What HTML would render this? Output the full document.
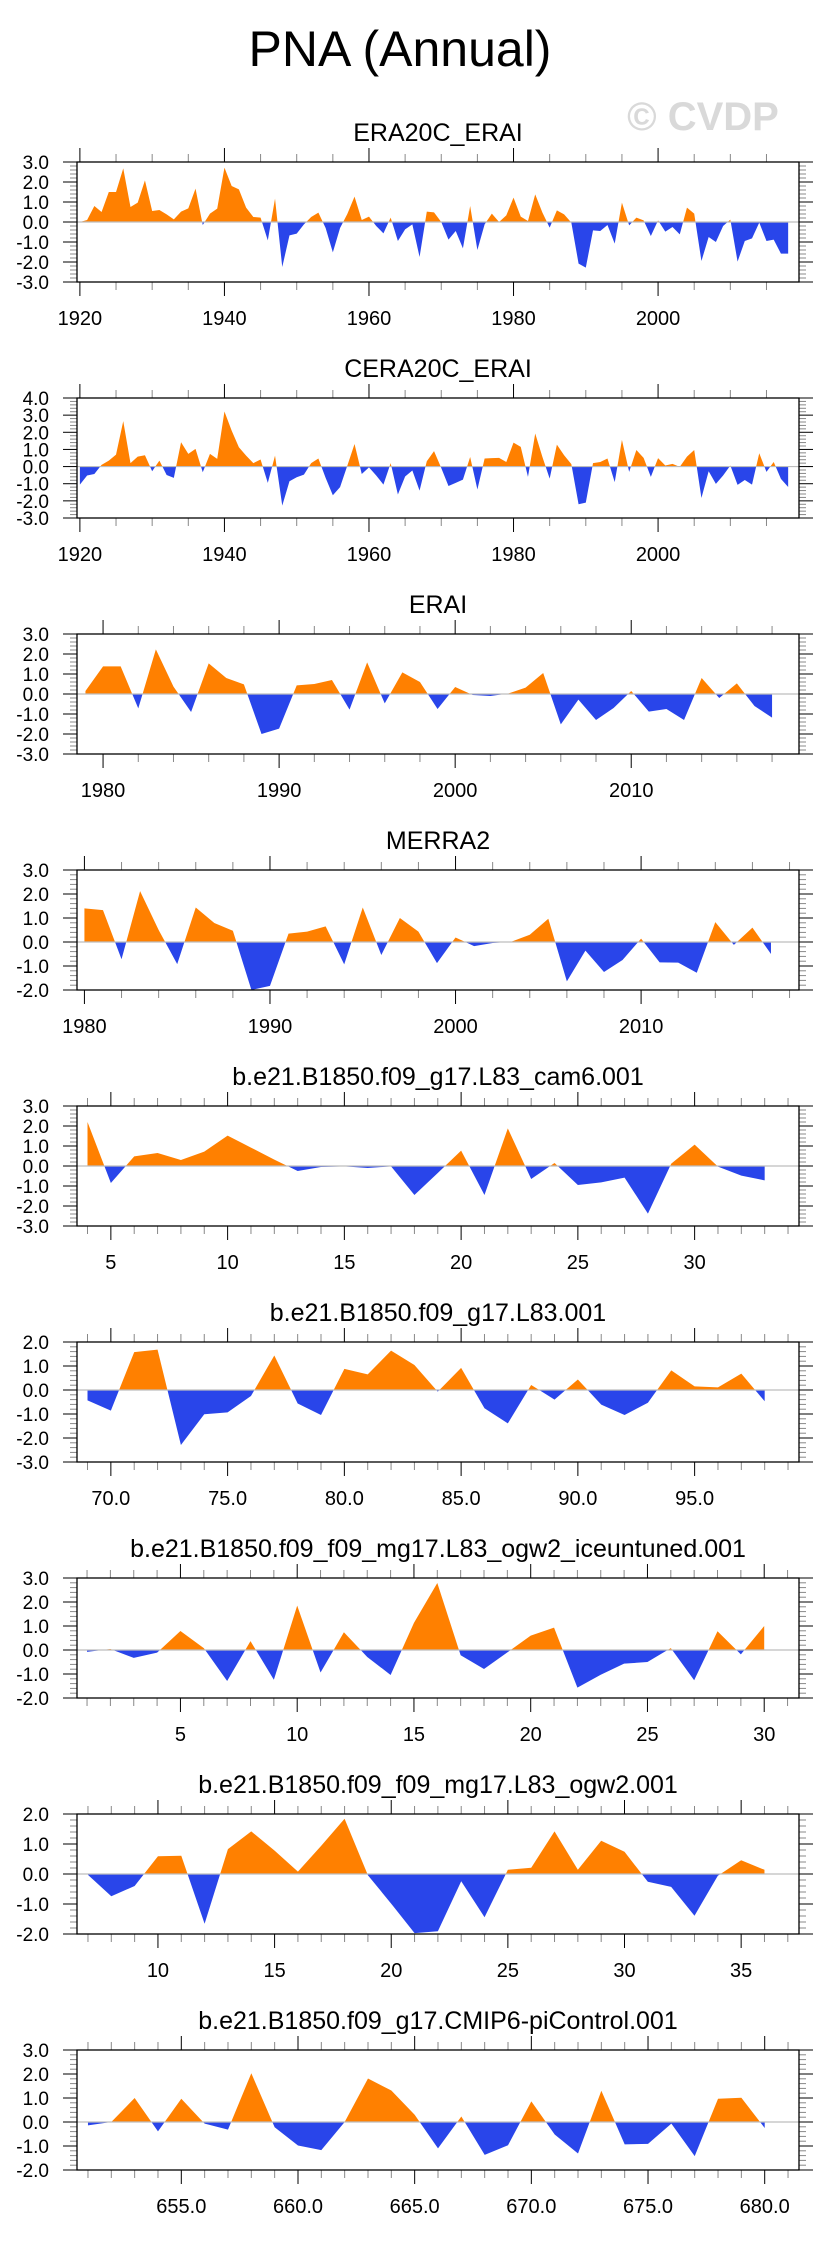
<!DOCTYPE html>
<html><head><meta charset="utf-8"><style>
html,body{margin:0;padding:0;background:#fff}
svg{display:block}
text{font-family:"Liberation Sans",Arial,sans-serif}
</style></head><body>
<svg id="chart" width="829" height="2245" viewBox="0 0 829 2245" xmlns="http://www.w3.org/2000/svg">
<rect width="829" height="2245" fill="#fff"/>
<text x="400" y="66" font-size="50" text-anchor="middle" fill="#000">PNA (Annual)</text>
<text x="703" y="130" font-size="40" font-weight="bold" text-anchor="middle" fill="#d9d9d9">© CVDP</text>
</svg>
<script>
const titles = ["ERA20C_ERAI","CERA20C_ERAI","ERAI","MERRA2","b.e21.B1850.f09_g17.L83_cam6.001","b.e21.B1850.f09_g17.L83.001","b.e21.B1850.f09_f09_mg17.L83_ogw2_iceuntuned.001","b.e21.B1850.f09_f09_mg17.L83_ogw2.001","b.e21.B1850.f09_g17.CMIP6-piControl.001"];
const startYears = [1920,1920,1979,1980,4,69,1,7,651];
const xMins = [1919.6,1919.6,1978.52,1979.6,3.55,68.55,0.57,6.53,650.53];
const xMaxs = [2019.5,2019.5,2019.53,2018.51,34.47,99.47,31.49,37.48,681.47];
const yMins = [-3,-3,-3,-2,-3,-3,-2,-2,-2];
const yMaxs = [3,4,3,3,3,2,3,2,3];
const majorSteps = [20,20,10,10,5,5,5,5,5];
const minorSteps = [5,5,2,2,1,1,1,1,1];
const majorStarts = [1920,1920,1980,1980,5,70,5,10,655];
const labelDecimals = [0,0,0,0,0,1,0,0,1];
const s1 = [0.0,0.1,0.8,0.5,1.5,1.5,2.68,0.75,0.97,2.08,0.55,0.6,0.38,0.13,0.52,0.68,1.67,-0.15,0.42,0.67,2.72,1.8,1.63,0.72,0.25,0.22,-0.92,1.17,-2.25,-0.67,-0.58,-0.12,0.25,0.47,-0.3,-1.52,-0.3,0.4,1.27,0.1,0.27,-0.2,-0.57,0.22,-0.95,-0.37,-0.12,-1.75,0.52,0.48,0.0,-0.88,-0.45,-1.32,0.8,-1.4,-0.12,0.42,0.0,0.33,1.22,0.27,0.05,1.38,0.47,-0.28,0.58,0.38,-0.03,-2.08,-2.28,-0.42,-0.45,-0.15,-1.08,0.97,-0.17,0.22,0.08,-0.7,0.08,-0.48,-0.25,-0.62,0.72,0.42,-1.95,-0.75,-1.0,-0.2,0.12,-1.98,-0.95,-0.82,-0.03,-0.95,-0.88,-1.58,-1.58];
const s2 = [-1.05,-0.52,-0.43,0.1,0.35,0.7,2.65,0.2,0.58,0.66,-0.27,0.35,-0.49,-0.66,1.42,0.74,1.03,-0.33,0.74,0.45,3.21,2.1,1.13,0.64,0.2,0.41,-0.95,0.64,-2.28,-0.86,-0.62,-0.47,0.2,0.47,-0.66,-1.67,-1.2,0.05,1.32,-0.43,-0.05,-0.52,-1.05,0.2,-1.63,-0.58,-0.23,-1.4,0.31,0.9,-0.08,-1.13,-0.95,-0.76,0.56,-1.34,0.47,0.49,0.51,0.27,1.4,1.15,-0.6,1.93,0.56,-0.7,1.28,0.66,0.14,-2.2,-2.1,0.2,0.27,0.47,-0.91,1.56,-0.31,0.97,0.51,-0.6,0.49,0.06,0.16,-0.02,0.58,0.97,-1.83,-0.27,-1.01,-0.52,0.06,-1.07,-0.78,-1.05,0.78,-0.31,0.27,-0.72,-1.19];
const s3 = [0.15,1.38,1.38,-0.72,2.23,0.37,-0.9,1.53,0.8,0.48,-2.0,-1.73,0.43,0.5,0.7,-0.78,1.58,-0.47,1.08,0.6,-0.75,0.35,-0.05,-0.1,0.02,0.32,1.05,-1.52,-0.28,-1.3,-0.7,0.15,-0.88,-0.75,-1.3,0.8,-0.2,0.53,-0.6,-1.18];
const s4 = [1.4,1.33,-0.72,2.12,0.5,-0.92,1.44,0.79,0.47,-2.0,-1.83,0.35,0.43,0.65,-0.93,1.44,-0.54,1.0,0.43,-0.88,0.19,-0.17,-0.04,0.01,0.3,0.97,-1.64,-0.36,-1.25,-0.75,0.14,-0.85,-0.86,-1.28,0.83,-0.12,0.6,-0.5];
const s5 = [2.2,-0.85,0.48,0.65,0.3,0.72,1.52,0.92,0.32,-0.25,-0.05,-0.02,-0.1,-0.02,-1.45,-0.35,0.77,-1.45,1.88,-0.65,0.15,-0.95,-0.82,-0.58,-2.38,0.12,1.07,-0.03,-0.48,-0.72];
const s6 = [-0.43,-0.86,1.58,1.68,-2.29,-1.01,-0.93,-0.25,1.44,-0.56,-1.04,0.88,0.65,1.64,1.04,-0.07,0.92,-0.76,-1.39,0.21,-0.4,0.44,-0.61,-1.04,-0.53,0.82,0.15,0.11,0.68,-0.47];
const s7 = [-0.08,0.04,-0.33,-0.11,0.79,0.08,-1.29,0.37,-1.24,1.85,-0.94,0.74,-0.29,-1.04,1.13,2.79,-0.22,-0.79,-0.1,0.6,0.93,-1.57,-1.03,-0.57,-0.5,0.08,-1.26,0.78,-0.18,1.0];
const s8 = [-0.03,-0.74,-0.4,0.59,0.61,-1.66,0.83,1.42,0.78,0.08,0.94,1.84,-0.04,-0.99,-1.97,-1.91,-0.24,-1.44,0.14,0.21,1.42,0.14,1.11,0.74,-0.26,-0.43,-1.39,-0.06,0.46,0.14];
const s9 = [-0.14,0.0,1.0,-0.39,0.97,-0.07,-0.32,2.03,-0.22,-0.98,-1.17,0.0,1.81,1.31,0.3,-1.1,0.23,-1.37,-0.97,0.86,-0.52,-1.31,1.3,-0.93,-0.91,-0.07,-1.42,0.97,1.01,-0.25];
const seriesList = [s1,s2,s3,s4,s5,s6,s7,s8,s9];

const NS = "http://www.w3.org/2000/svg";
const svg = document.getElementById("chart");
const L = 77, R = 799, H = 120, TOP0 = 162, PITCH = 236;
function mk(tag, attrs, parent) {
  const e = document.createElementNS(NS, tag);
  for (const k in attrs) e.setAttribute(k, attrs[k]);
  (parent || svg).appendChild(e);
  return e;
}
const defs = mk("defs", {});
for (let p = 0; p < 9; p++) {
  const top = TOP0 + p * PITCH, bot = top + H;
  const x0 = xMins[p], x1 = xMaxs[p], y0 = yMins[p], y1 = yMaxs[p];
  const xs = v => L + (v - x0) / (x1 - x0) * (R - L);
  const ys = v => bot - (v - y0) / (y1 - y0) * H;
  const g = mk("g", {});
  
  
  const t = mk("text", {x: (L + R) / 2, y: top - 21, "font-size": 25, "text-anchor": "middle", fill: "#000"}, g);
  t.textContent = titles[p];
  
  
  const zy = ys(0);
  const cpA = mk("clipPath", {id: "ca" + p}, defs);
  mk("rect", {x: L, y: top, width: R - L, height: zy - top}, cpA);
  const cpB = mk("clipPath", {id: "cb" + p}, defs);
  mk("rect", {x: L, y: zy, width: R - L, height: bot - zy}, cpB);
  const data = seriesList[p];
  let pts = xs(startYears[p]).toFixed(2) + "," + zy.toFixed(2) + " ";
  for (let i = 0; i < data.length; i++) pts += xs(startYears[p] + i).toFixed(2) + "," + ys(data[i]).toFixed(2) + " ";
  pts += xs(startYears[p] + data.length - 1).toFixed(2) + "," + zy.toFixed(2);
  const pos = mk("polygon", {points: pts, fill: "#ff8000", "clip-path": "url(#ca" + p + ")"}, g);
  
  
  const neg = mk("polygon", {points: pts, fill: "#2945ea", "clip-path": "url(#cb" + p + ")"}, g);
  
  
  const zl = mk("line", {x1: L, x2: R, y1: zy, y2: zy, stroke: "#bdbdbd", "stroke-width": 1.2}, g);
  
  
  // y ticks
  for (let v = y0; v <= y1 + 1e-9; v += 0.2) {
    const yy = ys(v);
    const major = Math.abs(v - Math.round(v)) < 1e-6;
    const len = major ? 14 : 7;
    mk("line", {x1: L - len, x2: L, y1: yy, y2: yy, stroke: major ? "#000" : "#888", "stroke-width": 1}, g);
    mk("line", {x1: R, x2: R + len, y1: yy, y2: yy, stroke: major ? "#000" : "#888", "stroke-width": 1}, g);
    if (major) {
      const lb = mk("text", {x: 49, y: yy + 7, "font-size": 19, "text-anchor": "end", fill: "#000"}, g);
      lb.textContent = Math.round(v).toFixed(1);
      
      
    }
  }
  // x ticks
  const ms = minorSteps[p];
  let v = Math.ceil(x0 / ms) * ms;
  for (; v <= x1; v += ms) {
    const xx = xs(v);
    const major = Math.abs(((v - majorStarts[p]) % majorSteps[p] + majorSteps[p]) % majorSteps[p]) < 1e-6;
    const len = major ? 14 : 8;
    mk("line", {x1: xx, x2: xx, y1: top - len, y2: top, stroke: major ? "#000" : "#888", "stroke-width": 1}, g);
    mk("line", {x1: xx, x2: xx, y1: bot, y2: bot + len, stroke: major ? "#000" : "#888", "stroke-width": 1}, g);
    if (major) {
      const lb = mk("text", {x: xx, y: bot + 43, "font-size": 20, "text-anchor": "middle", fill: "#000"}, g);
      lb.textContent = v.toFixed(labelDecimals[p]);
      
      
    }
  }
  const fr = mk("rect", {x: L, y: top, width: R - L, height: H, fill: "none", stroke: "#000", "stroke-width": 1.3}, g);
  
  
}
</script>
</body></html>
